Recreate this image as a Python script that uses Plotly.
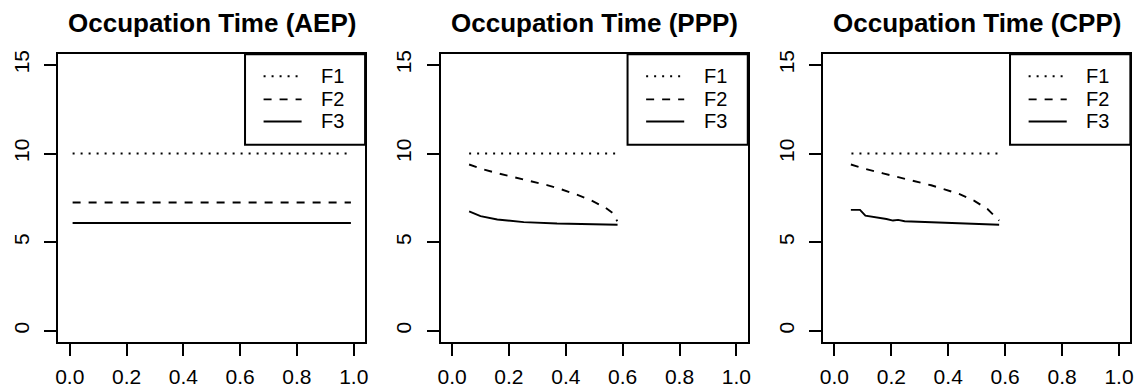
import plotly.graph_objects as go

# ---------------- data ----------------
panel_titles = ["Occupation Time (AEP)", "Occupation Time (PPP)", "Occupation Time (CPP)"]
series_names = ["F1", "F2", "F3"]

x_ticks = [0.0, 0.2, 0.4, 0.6, 0.8, 1.0]
x_tick_labels = ["0.0", "0.2", "0.4", "0.6", "0.8", "1.0"]
y_ticks = [0, 5, 10, 15]
y_tick_labels = ["0", "5", "10", "15"]

# AEP
aep_x = [0.01, 0.99]
aep_f1 = [10.0, 10.0]
aep_f2 = [7.24, 7.24]
aep_f3 = [6.08, 6.08]

# PPP
ppp_f1_x = [0.06, 0.58]
ppp_f1 = [10.0, 10.0]
ppp_f2_x = [0.06, 0.106, 0.159, 0.223, 0.275, 0.334, 0.386, 0.439, 0.491, 0.538, 0.567, 0.581]
ppp_f2 = [9.38, 9.12, 8.89, 8.66, 8.45, 8.22, 7.97, 7.68, 7.34, 6.96, 6.62, 6.18]
ppp_f3_x = [0.06, 0.10, 0.159, 0.252, 0.369, 0.486, 0.582]
ppp_f3 = [6.74, 6.47, 6.28, 6.13, 6.05, 6.01, 5.98]

# CPP
cpp_f1_x = [0.06, 0.58]
cpp_f1 = [10.0, 10.0]
cpp_f2_x = [0.058, 0.107, 0.171, 0.224, 0.282, 0.340, 0.387, 0.440, 0.492, 0.538, 0.579]
cpp_f2 = [9.38, 9.14, 8.88, 8.67, 8.45, 8.21, 7.98, 7.71, 7.33, 6.87, 6.22]
cpp_f3_x = [0.058, 0.090, 0.109, 0.154, 0.183, 0.206, 0.224, 0.247, 0.317, 0.434, 0.579]
cpp_f3 = [6.82, 6.82, 6.50, 6.41, 6.31, 6.22, 6.26, 6.18, 6.13, 6.05, 5.98]

panels = [
    [(aep_x, aep_f1), (aep_x, aep_f2), (aep_x, aep_f3)],
    [(ppp_f1_x, ppp_f1), (ppp_f2_x, ppp_f2), (ppp_f3_x, ppp_f3)],
    [(cpp_f1_x, cpp_f1), (cpp_f2_x, cpp_f2), (cpp_f3_x, cpp_f3)],
]

# ---------------- style ----------------
FONT = "Liberation Sans, Arial, Helvetica, sans-serif"
W, H = 1145, 392
dashes = ["2px,6px", "8px,8px", "solid"]
LW = 1.9

x_domains = [[55.7 / W, 364.0 / W], [440.0 / W, 748.7 / W], [824.3 / W, 1133.3 / W]]
y_domain = [(H - 341.0) / H, (H - 50.7) / H]

fig = go.Figure()

for i, series in enumerate(panels):
    xa = "x" if i == 0 else f"x{i+1}"
    ya = "y" if i == 0 else f"y{i+1}"
    for j, (xs, ys) in enumerate(series):
        fig.add_trace(go.Scatter(
            x=xs, y=ys, mode="lines", name=series_names[j],
            line=dict(color="black", width=LW, dash=dashes[j]),
            xaxis=xa, yaxis=ya, showlegend=False, hoverinfo="skip",
        ))

axis_common = dict(
    showgrid=False, zeroline=False, showline=True, mirror=True,
    linecolor="black", linewidth=2, ticks="outside", ticklen=12,
    tickwidth=2, tickcolor="black", tickfont=dict(family=FONT, size=21, color="black"),
)

layout = dict(
    width=W, height=H, margin=dict(l=0, r=0, t=0, b=0),
    paper_bgcolor="white", plot_bgcolor="white", showlegend=False,
    font=dict(family=FONT, color="black"),
)

annotations = []
shapes = []
leg_rows = [0.9233, 0.8427, 0.7659]
for i in range(3):
    sx = "" if i == 0 else str(i + 1)
    layout[f"xaxis{sx}"] = dict(
        domain=x_domains[i], range=[-0.04, 1.04], tickvals=x_ticks,
        ticktext=x_tick_labels, anchor=f"y{sx}", ticklabelstandoff=3, **axis_common)
    layout[f"yaxis{sx}"] = dict(
        domain=y_domain, range=[-0.6, 15.6], tickvals=y_ticks,
        ticktext=y_tick_labels, anchor=f"x{sx}", tickangle=-90, ticklabelstandoff=7,
        **axis_common)
    xr = f"x{sx} domain"
    yr = f"y{sx} domain"
    annotations.append(dict(
        text=f"<b>{panel_titles[i]}</b>", xref=xr, yref="paper", x=0.5,
        y=(H - 19) / H, xanchor="center", yanchor="middle", showarrow=False,
        font=dict(family=FONT, size=26, color="black")))
    # legend box
    shapes.append(dict(type="rect", xref=xr, yref=yr, x0=0.6085, x1=1.0,
                       y0=0.6845, y1=1.0, line=dict(color="black", width=2),
                       fillcolor="white", layer="above"))
    for j in range(3):
        shapes.append(dict(type="line", xref=xr, yref=yr, x0=0.669, x1=0.793,
                           y0=leg_rows[j], y1=leg_rows[j],
                           line=dict(color="black", width=LW, dash=dashes[j]),
                           layer="above"))
        annotations.append(dict(
            text=series_names[j], xref=xr, yref=yr, x=0.85, y=leg_rows[j],
            xanchor="left", yanchor="middle", showarrow=False,
            font=dict(family=FONT, size=20, color="black")))

layout["annotations"] = annotations
layout["shapes"] = shapes
fig.update_layout(**layout)

fig.write_html("out.html")
